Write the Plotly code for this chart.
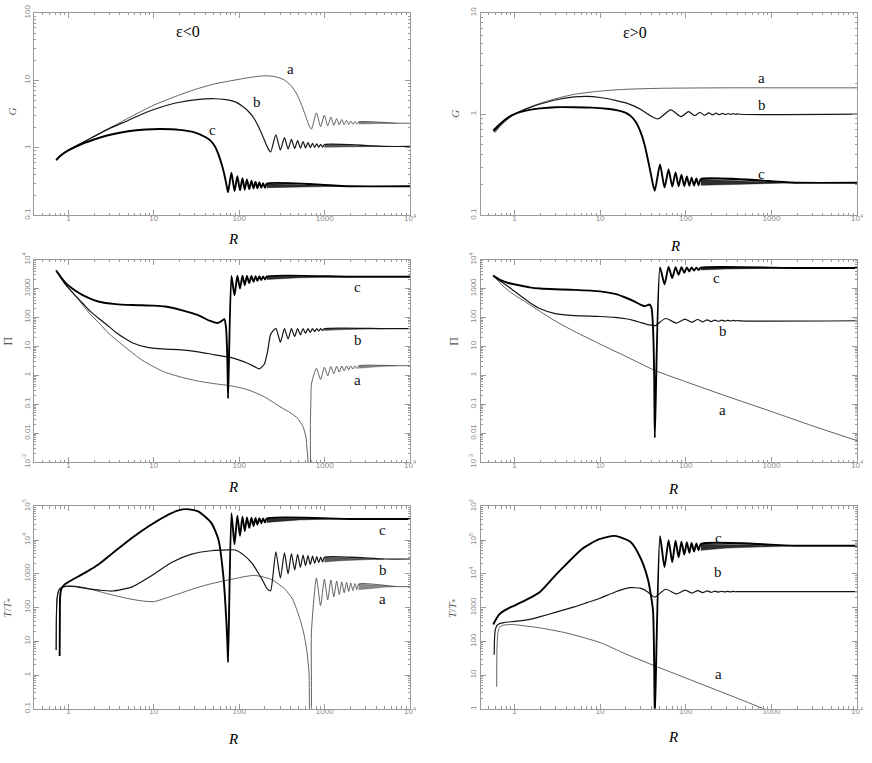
import math
import plotly.graph_objects as go

# ---------------- shared R grids of the oscillation extrema ----------------
OSC_L_c_R = [74, 81, 88, 95, 102, 109, 116, 123, 131, 139, 147, 155, 163, 172, 181, 190, 200, 210]
BAND_L_c_R = [210, 300, 500, 1000, 2000]
OSC_L_b_R = [233, 268, 303, 338, 373, 408, 445, 482, 520, 558, 597, 637, 678, 720, 763, 807, 852, 898, 945, 993]
BAND_L_b_R = [993, 1500, 2500, 5000]
OSC_L_a_R = [700, 800, 895, 990, 1085, 1180, 1280, 1380, 1480, 1585, 1690, 1800, 1910, 2020, 2140, 2260, 2380, 2500]
BAND_L_a_R = [2500, 3500, 5000, 7000]

OSC_R_c_R = [43.5, 50, 56.5, 63, 69.5, 76, 82.5, 89, 96, 103, 110, 117, 125, 133, 141, 150]
BAND_R_c_R = [150, 300, 700, 2000]
OSC_R_b_G_R = [48, 67, 88, 108, 127, 146, 166, 186, 206, 226, 247, 268, 290, 312, 335, 358, 382, 406, 430]
OSC_R_b_R = [44, 58, 78, 98, 118, 138, 158, 178, 198, 218, 240, 262, 285, 308, 332, 356, 380, 405, 430]

# ---------------- Panel 1 : G, eps<0 ----------------
G_neg_a_R = [0.72, 0.8, 1, 1.5, 2, 3, 5, 10, 20, 30, 50, 100, 150, 200, 260, 330, 400, 470, 530, 580, 620, 660]
G_neg_a = [0.66, 0.76, 0.93, 1.22, 1.48, 1.95, 2.75, 4.3, 6.1, 7.3, 8.8, 10.4, 11.3, 11.7, 11.4, 10.3, 8.5, 6.3, 4.5, 3.3, 2.6, 2.1]
G_neg_a_osc = [1.9, 3.3, 2.06, 3.05, 2.12, 2.85, 2.16, 2.72, 2.19, 2.63, 2.21, 2.56, 2.23, 2.5, 2.24, 2.46, 2.25, 2.43]
G_neg_a_hi = [2.43, 2.38, 2.34, 2.32]
G_neg_a_lo = [2.25, 2.28, 2.3, 2.32]
G_neg_a_end = 2.32

G_neg_b_R = [0.72, 0.8, 1, 1.5, 2, 3, 5, 7, 10, 15, 20, 30, 50, 70, 90, 110, 130, 150, 170, 190, 205, 218]
G_neg_b = [0.66, 0.76, 0.93, 1.22, 1.48, 1.93, 2.55, 3.1, 3.7, 4.35, 4.75, 5.15, 5.35, 5.2, 4.8, 4.1, 3.4, 2.7, 2.0, 1.45, 1.15, 0.97]
G_neg_b_osc = [0.87, 1.56, 0.93, 1.42, 0.96, 1.34, 0.98, 1.28, 0.99, 1.24, 1.0, 1.2, 1.01, 1.17, 1.015, 1.15, 1.02, 1.13, 1.025, 1.12]
G_neg_b_hi = [1.12, 1.09, 1.07, 1.05]
G_neg_b_lo = [1.025, 1.035, 1.045, 1.05]
G_neg_b_end = 1.05

G_neg_c_R = [0.72, 0.8, 1, 1.5, 2, 3, 5, 8, 12, 20, 30, 40, 47, 53, 57, 62, 67, 71]
G_neg_c = [0.66, 0.76, 0.92, 1.17, 1.33, 1.55, 1.76, 1.87, 1.9, 1.85, 1.7, 1.45, 1.25, 1.0, 0.8, 0.58, 0.4, 0.28]
G_neg_c_osc = [0.22, 0.43, 0.23, 0.38, 0.235, 0.355, 0.24, 0.34, 0.245, 0.325, 0.25, 0.315, 0.252, 0.31, 0.255, 0.30, 0.257, 0.295]
G_neg_c_hi = [0.295, 0.29, 0.282, 0.275, 0.27]
G_neg_c_lo = [0.257, 0.26, 0.264, 0.267, 0.27]
G_neg_c_end = 0.27

# ---------------- Panel 2 : G, eps>0 ----------------
G_pos_a_R = [0.59, 0.7, 0.85, 1, 1.5, 2, 3, 5, 10, 20, 50, 100, 300, 1000, 10000]
G_pos_a = [0.655, 0.78, 0.9, 1.0, 1.17, 1.28, 1.42, 1.57, 1.69, 1.76, 1.8, 1.81, 1.82, 1.82, 1.82]

G_pos_b_R = [0.575, 0.7, 0.85, 1, 1.5, 2, 3, 5, 7, 10, 15, 20, 25, 30, 35, 40, 44]
G_pos_b = [0.67, 0.8, 0.92, 1.0, 1.16, 1.26, 1.38, 1.48, 1.5, 1.46, 1.37, 1.29, 1.2, 1.11, 1.02, 0.95, 0.91]
G_pos_b_osc = [0.9, 1.1, 0.946, 1.057, 0.965, 1.04, 0.975, 1.03, 0.982, 1.024, 0.987, 1.019, 0.99, 1.015, 0.993, 1.012, 0.995, 1.008, 0.997]
G_pos_b_end = 1.0

G_pos_c_R = [0.565, 0.7, 0.85, 1, 1.5, 2, 3, 5, 8, 12, 16, 20, 23, 26, 30, 33, 36, 39, 41.5]
G_pos_c = [0.69, 0.82, 0.93, 1.0, 1.1, 1.14, 1.17, 1.17, 1.16, 1.13, 1.09, 1.03, 0.95, 0.84, 0.65, 0.5, 0.36, 0.26, 0.2]
G_pos_c_osc = [0.175, 0.318, 0.188, 0.284, 0.192, 0.266, 0.194, 0.252, 0.195, 0.242, 0.196, 0.236, 0.197, 0.231, 0.198, 0.228]
G_pos_c_hi = [0.228, 0.222, 0.215, 0.21]
G_pos_c_lo = [0.198, 0.201, 0.205, 0.21]
G_pos_c_end = 0.21

# ---------------- Panel 3 : Pi, eps<0 ----------------
Pi_neg_a_R = [0.72, 0.8, 0.94, 1.2, 1.47, 1.8, 2.29, 2.9, 3.58, 4.5, 5.58, 7, 8.7, 11, 13.6, 21, 33, 52, 81, 125,
              197, 300, 400, 480, 556, 600, 622, 640, 652, 668, 680, 690]
Pi_neg_a = [4200, 2600, 1290, 560, 270, 130, 64, 30, 17.4, 10, 6.1, 3.6, 2.45, 1.7, 1.27, 0.86, 0.63, 0.51, 0.43, 0.32,
            0.18, 0.082, 0.05, 0.033, 0.017, 0.008, 0.0028, 0.001, 0.0003, 0.0003, 0.02, 0.15]
Pi_neg_a_osc = [0.5, 1.74, 0.72, 1.9, 0.95, 2.0, 1.15, 2.05, 1.3, 2.08, 1.45, 2.1, 1.55, 2.11, 1.65, 2.12, 1.72, 2.13]
Pi_neg_a_hi = [2.14, 2.15, 2.15, 2.15]
Pi_neg_a_lo = [1.75, 1.9, 2.05, 2.15]
Pi_neg_a_end = 2.15

Pi_neg_b_R = [0.72, 0.8, 0.94, 1.2, 1.47, 1.8, 2.29, 2.9, 3.58, 4.5, 5.58, 8.7, 13.6, 21, 33, 52, 81, 125, 150, 172, 197, 215]
Pi_neg_b = [4200, 2600, 1300, 580, 310, 165, 90, 52, 31, 19.5, 13.4, 9, 8, 7.6, 6.5, 5.1, 4.1, 2.6, 2.0, 1.66, 2.45, 6.9]
Pi_neg_b_osc = [26, 42, 14, 41, 18, 41, 22, 41, 25, 41, 28, 41, 30.5, 41, 32.5, 41, 34, 41, 35.5, 41]
Pi_neg_b_hi = [41.3, 41.3, 41.2, 41]
Pi_neg_b_lo = [35.5, 37.5, 39.5, 41]
Pi_neg_b_end = 41

Pi_neg_c_R = [0.72, 0.8, 0.94, 1.2, 1.47, 2.29, 3.58, 5.58, 10, 13.6, 21, 33, 45, 55, 62, 67, 70, 72, 73]
Pi_neg_c = [4200, 2700, 1500, 850, 590, 350, 290, 270, 256, 240, 180, 120, 77, 64, 75, 88, 45, 8, 1.5]
Pi_neg_c_osc = [0.16, 2700, 580, 2750, 1000, 2750, 1300, 2720, 1550, 2700, 1700, 2680, 1850, 2650, 1950, 2630, 2050, 2600]
Pi_neg_c_hi = [2600, 2580, 2570, 2560, 2550]
Pi_neg_c_lo = [2050, 2200, 2350, 2470, 2550]
Pi_neg_c_end = 2550

# ---------------- Panel 4 : Pi, eps>0 ----------------
Pi_pos_a_R = [0.565, 0.6, 0.7, 0.85, 1, 1.5, 2, 3, 5, 10, 20, 43, 100, 300, 1000, 3000, 10000]
Pi_pos_a = [2800, 2300, 1400, 850, 600, 280, 160, 75, 33, 12, 4.5, 1.5, 0.6, 0.19, 0.056, 0.018, 0.0055]

Pi_pos_b_R = [0.565, 0.6, 0.7, 0.85, 1, 1.5, 2, 3, 5, 10, 15, 20, 25, 30, 35, 40]
Pi_pos_b = [2800, 2400, 1700, 1150, 800, 330, 200, 135, 115, 108, 100, 90, 78, 66, 58, 54]
Pi_pos_b_osc = [52, 92, 64, 88, 68, 85, 70.5, 83, 72, 81.5, 73.5, 80.5, 74.5, 79.5, 75.2, 79, 75.8, 78.5, 76.3]
Pi_pos_b_end = 77

Pi_pos_c_R = [0.565, 0.6, 0.7, 0.85, 1, 1.5, 2, 3, 5, 10, 15, 20, 25, 30, 33, 36, 38, 40, 41.5, 42.8]
Pi_pos_c = [2800, 2500, 1900, 1550, 1400, 1100, 1000, 940, 900, 800, 650, 480, 360, 270, 245, 265, 280, 200, 40, 1]
Pi_pos_c_osc = [0.007, 5400, 1400, 5600, 2300, 5500, 3000, 5450, 3500, 5400, 3900, 5350, 4200, 5300, 4400, 5250]
Pi_pos_c_hi = [5250, 5200, 5150, 5100]
Pi_pos_c_lo = [4400, 4700, 4950, 5100]
Pi_pos_c_end = 5100

# ---------------- Panel 5 : T/T*, eps<0 ----------------
T_neg_a_R = [0.72, 0.725, 0.74, 0.77, 0.82, 0.9, 1, 1.2, 1.5, 2, 3, 5, 7, 10, 15, 23, 33, 47, 81, 150,
             235, 336, 420, 479, 530, 573, 620, 656, 675, 688]
T_neg_a = [5.5, 60, 200, 320, 390, 420, 430, 430, 400, 330, 250, 185, 160, 150, 205, 295, 400, 510, 690, 900,
           690, 370, 180, 77, 35, 16, 5, 1.1, 0.05, 0.05]
T_neg_a_osc = [20, 750, 115, 690, 170, 650, 210, 610, 245, 580, 275, 555, 300, 535, 320, 515, 340, 500]
T_neg_a_hi = [500, 470, 440, 420]
T_neg_a_lo = [340, 370, 400, 420]
T_neg_a_end = 420

T_neg_b_R = [0.72, 0.725, 0.74, 0.77, 0.82, 0.9, 1, 1.2, 1.6, 2.29, 3.27, 5.58, 9.5, 16.3, 27.7, 47, 74, 90, 115, 140, 165, 190, 206, 220]
T_neg_b = [5.5, 60, 200, 320, 390, 420, 430, 420, 370, 330, 310, 412, 900, 2200, 3860, 4840, 5150, 5100, 3470, 2100, 1120, 600, 400, 330]
T_neg_b_osc = [316, 4500, 750, 4200, 1000, 4000, 1300, 3800, 1550, 3600, 1750, 3450, 1900, 3350, 2050, 3250, 2150, 3150, 2250, 3100]
T_neg_b_hi = [3100, 2950, 2850, 2750]
T_neg_b_lo = [2250, 2450, 2650, 2750]
T_neg_b_end = 2750

T_neg_c_R = [0.79, 0.795, 0.8, 0.82, 0.86, 0.92, 1, 1.61, 2.29, 3.27, 5.58, 8.7, 13.6, 19.4, 24.3, 33, 47, 57, 65, 71, 73]
T_neg_c = [3.7, 50, 200, 330, 420, 500, 575, 1120, 1950, 4040, 11700, 25700, 50700, 76000, 82800, 71000, 32400, 10400, 900, 31, 6]
T_neg_c_osc = [2.4, 63000, 7500, 53000, 13300, 49000, 18500, 47000, 23000, 46000, 26000, 45000, 29000, 44500, 31500, 44000, 33500, 43500]
T_neg_c_hi = [43500, 43000, 42700, 42500, 42400]
T_neg_c_lo = [33500, 36500, 39500, 41500, 42400]
T_neg_c_end = 42400

# ---------------- Panel 6 : T/T*, eps>0 ----------------
T_pos_a_R = [0.62, 0.625, 0.64, 0.67, 0.72, 0.8, 0.9, 1, 2, 4, 10, 20, 43, 100, 337, 818, 1000]
T_pos_a = [4.5, 60, 180, 260, 295, 310, 315, 312, 250, 178, 92, 42, 19, 8.2, 2.45, 1.0, 0.82]

T_pos_b_R = [0.58, 0.585, 0.6, 0.63, 0.68, 0.75, 0.85, 1, 1.5, 2, 3, 5, 7, 10, 15, 22, 30, 36, 40]
T_pos_b = [40, 120, 230, 300, 340, 360, 375, 390, 450, 540, 720, 1050, 1400, 1900, 2900, 3900, 3700, 2900, 2300]
T_pos_b_osc = [2050, 3500, 2550, 3300, 2700, 3200, 2780, 3120, 2840, 3080, 2880, 3050, 2910, 3030, 2930, 3010, 2950, 2990, 2960]
T_pos_b_end = 2970

T_pos_c_R = [0.565, 0.6, 0.66, 0.75, 0.85, 1, 1.5, 2, 3, 3.9, 6.1, 9.6, 14.9, 23, 30, 36, 39, 41.5, 42.8]
T_pos_c = [315, 420, 620, 800, 950, 1150, 1900, 2950, 9000, 17800, 53700, 105000, 133000, 85000, 27500, 7200, 2500, 770, 20]
T_pos_c_osc = [0.5, 130000, 15800, 100000, 22000, 96000, 31000, 90000, 37000, 86000, 42000, 82000, 46000, 79000, 50000, 77000]
T_pos_c_hi = [77000, 73000, 70000, 68000]
T_pos_c_lo = [50000, 58000, 64000, 68000]
T_pos_c_end = 68000

# ---------------- tick labels ----------------
X_TICKS = [1, 10, 100, 1000, 10000]
X_TEXT = ['1', '10', '100', '1000', '10<sup>4</sup>']
Y_TICKS = {
    1: ([0.1, 1, 10, 100], ['0.1', '1', '10', '100']),
    2: ([0.1, 1, 10], ['0.1', '1', '10']),
    3: ([1e-3, 0.01, 0.1, 1, 10, 100, 1000, 1e4], ['10<sup>-3</sup>', '0.01', '0.1', '1', '10', '100', '1000', '10<sup>4</sup>']),
    4: ([1e-3, 0.01, 0.1, 1, 10, 100, 1000, 1e4], ['10<sup>-3</sup>', '0.01', '0.1', '1', '10', '100', '1000', '10<sup>4</sup>']),
    5: ([0.1, 1, 10, 100, 1000, 1e4, 1e5], ['0.1', '1', '10', '100', '1000', '10<sup>4</sup>', '10<sup>5</sup>']),
    6: ([1, 10, 100, 1000, 1e4, 1e5, 1e6], ['1', '10', '100', '1000', '10<sup>4</sup>', '10<sup>5</sup>', '10<sup>6</sup>']),
}
Y_RANGE = {1: [-1, 2], 2: [-1, 1], 3: [-3, 4], 4: [-3, 4], 5: [-1, 5], 6: [0, 6]}
X_RANGE = {1: [-0.405, 4], 3: [-0.405, 4], 5: [-0.405, 4], 2: [-0.395, 4], 4: [-0.395, 4], 6: [-0.395, 4]}

# curve labels (R, value)
LABELS = {
    1: [('a', 400, 14.8), ('b', 160, 4.8), ('c', 48, 1.85)],
    2: [('a', 770, 2.3), ('b', 770, 1.23), ('c', 770, 0.255)],
    3: [('c', 2430, 1130), ('b', 2430, 16), ('a', 2430, 0.67)],
    4: [('c', 231, 2300), ('b', 272, 33), ('a', 272, 0.064)],
    5: [('c', 4780, 20600), ('b', 4780, 1260), ('a', 4780, 176)],
    6: [('c', 240, 118000), ('b', 240, 11300), ('a', 240, 11)],
}

# ---------------- figure ----------------
fig = go.Figure()

STY = {
    'a': dict(width=0.8, color='#3a3a3a'),
    'b': dict(width=1.2, color='#151515'),
    'c': dict(width=1.9, color='#000000'),
}
BAND_FILL = {'a': 'rgba(40,40,40,0.55)', 'b': 'rgba(20,20,20,0.7)', 'c': 'rgba(0,0,0,0.82)'}


def aid(n):
    return '' if n == 1 else str(n)


def add_curve(n, key, R, V, oR=None, oV=None, band=None, end=None):
    xs, ys = list(R), list(V)
    if oR is not None:
        xs += list(oR)
        ys += list(oV)
    if band is not None:
        bR, hi, lo = band
        fig.add_trace(go.Scatter(
            x=list(bR) + list(bR)[::-1], y=list(hi) + list(lo)[::-1],
            mode='lines', fill='toself', fillcolor=BAND_FILL[key],
            line=dict(width=0.5, color=BAND_FILL[key]),
            xaxis='x' + aid(n), yaxis='y' + aid(n), hoverinfo='skip', showlegend=False))
        xs.append(bR[-1])
        ys.append(end)
    if end is not None:
        xs.append(10000)
        ys.append(end)
    fig.add_trace(go.Scatter(
        x=xs, y=ys, mode='lines',
        line=dict(shape='spline', smoothing=0.6, **STY[key]),
        xaxis='x' + aid(n), yaxis='y' + aid(n), hoverinfo='skip', showlegend=False))


# panel 1
add_curve(1, 'a', G_neg_a_R, G_neg_a, OSC_L_a_R, G_neg_a_osc, (BAND_L_a_R, G_neg_a_hi, G_neg_a_lo), G_neg_a_end)
add_curve(1, 'b', G_neg_b_R, G_neg_b, OSC_L_b_R, G_neg_b_osc, (BAND_L_b_R, G_neg_b_hi, G_neg_b_lo), G_neg_b_end)
add_curve(1, 'c', G_neg_c_R, G_neg_c, OSC_L_c_R, G_neg_c_osc, (BAND_L_c_R, G_neg_c_hi, G_neg_c_lo), G_neg_c_end)
# panel 2
add_curve(2, 'a', G_pos_a_R, G_pos_a)
add_curve(2, 'b', G_pos_b_R, G_pos_b, OSC_R_b_G_R, G_pos_b_osc, None, G_pos_b_end)
add_curve(2, 'c', G_pos_c_R, G_pos_c, OSC_R_c_R, G_pos_c_osc, (BAND_R_c_R, G_pos_c_hi, G_pos_c_lo), G_pos_c_end)
# panel 3
add_curve(3, 'a', Pi_neg_a_R, Pi_neg_a, OSC_L_a_R, Pi_neg_a_osc, (BAND_L_a_R, Pi_neg_a_hi, Pi_neg_a_lo), Pi_neg_a_end)
add_curve(3, 'b', Pi_neg_b_R, Pi_neg_b, OSC_L_b_R, Pi_neg_b_osc, (BAND_L_b_R, Pi_neg_b_hi, Pi_neg_b_lo), Pi_neg_b_end)
add_curve(3, 'c', Pi_neg_c_R, Pi_neg_c, OSC_L_c_R, Pi_neg_c_osc, (BAND_L_c_R, Pi_neg_c_hi, Pi_neg_c_lo), Pi_neg_c_end)
# panel 4
add_curve(4, 'a', Pi_pos_a_R, Pi_pos_a)
add_curve(4, 'b', Pi_pos_b_R, Pi_pos_b, OSC_R_b_R, Pi_pos_b_osc, None, Pi_pos_b_end)
add_curve(4, 'c', Pi_pos_c_R, Pi_pos_c, OSC_R_c_R, Pi_pos_c_osc, (BAND_R_c_R, Pi_pos_c_hi, Pi_pos_c_lo), Pi_pos_c_end)
# panel 5
add_curve(5, 'a', T_neg_a_R, T_neg_a, OSC_L_a_R, T_neg_a_osc, (BAND_L_a_R, T_neg_a_hi, T_neg_a_lo), T_neg_a_end)
add_curve(5, 'b', T_neg_b_R, T_neg_b, OSC_L_b_R, T_neg_b_osc, (BAND_L_b_R, T_neg_b_hi, T_neg_b_lo), T_neg_b_end)
add_curve(5, 'c', T_neg_c_R, T_neg_c, OSC_L_c_R, T_neg_c_osc, (BAND_L_c_R, T_neg_c_hi, T_neg_c_lo), T_neg_c_end)
# panel 6
add_curve(6, 'a', T_pos_a_R, T_pos_a)
add_curve(6, 'b', T_pos_b_R, T_pos_b, OSC_R_b_R, T_pos_b_osc, None, T_pos_b_end)
add_curve(6, 'c', T_pos_c_R, T_pos_c, OSC_R_c_R, T_pos_c_osc, (BAND_R_c_R, T_pos_c_hi, T_pos_c_lo), T_pos_c_end)

# ---------------- axes ----------------
XDOM = {'L': [0.039, 0.4736], 'R': [0.555, 0.9897]}
YDOM = {0: [0.7222, 0.9921], 1: [0.3932, 0.6632], 2: [0.0642, 0.3342]}
AXC = '#9a9a9a'
TICKFONT = dict(family='Liberation Sans, Arial, sans-serif', size=8, color='#8a8a8a')


def minor_vals(lo, hi):
    out = []
    for d in range(lo, hi):
        for k in range(2, 10):
            out.append(k * 10.0 ** d)
    return out


layout_axes = {}
for n in range(1, 7):
    col = 'L' if n % 2 == 1 else 'R'
    row = (n - 1) // 2
    yr = Y_RANGE[n]
    layout_axes['xaxis' + aid(n)] = dict(
        type='log', domain=XDOM[col], range=X_RANGE[n], anchor='y' + aid(n),
        showline=True, linecolor=AXC, linewidth=1, mirror='allticks',
        ticks='inside', ticklen=5, tickcolor=AXC, tickwidth=1,
        tickmode='array', tickvals=X_TICKS, ticktext=X_TEXT, tickfont=TICKFONT,
        ticklabelstandoff=-5,
        showgrid=False, zeroline=False,
        minor=dict(ticks='inside', ticklen=2.5, tickcolor=AXC, tickwidth=1,
                   tickmode='array', tickvals=minor_vals(-1, 4), showgrid=False))
    layout_axes['yaxis' + aid(n)] = dict(
        type='log', domain=YDOM[row], range=yr, anchor='x' + aid(n),
        showline=True, linecolor=AXC, linewidth=1, mirror='allticks',
        ticks='inside', ticklen=5, tickcolor=AXC, tickwidth=1,
        tickmode='array', tickvals=Y_TICKS[n][0], ticktext=Y_TICKS[n][1],
        tickfont=TICKFONT, tickangle=-90,
        showgrid=False, zeroline=False,
        minor=dict(ticks='inside', ticklen=2.5, tickcolor=AXC, tickwidth=1,
                   tickmode='array', tickvals=minor_vals(yr[0], yr[1]), showgrid=False))

annotations = []
SERIF = 'Liberation Serif, Times New Roman, serif'
for n, labs in LABELS.items():
    for txt, r, v in labs:
        annotations.append(dict(text=txt, x=math.log10(r), y=math.log10(v),
                                xref='x' + aid(n), yref='y' + aid(n), showarrow=False,
                                xanchor='center', yanchor='middle',
                                font=dict(family=SERIF, size=15, color='#111')))

# x titles (centre positions, in axis-domain units)
XT_Y = {1: -0.118, 2: -0.15, 3: -0.125, 4: -0.133, 5: -0.15, 6: -0.141}
XT_X = {1: 0.53, 2: 0.515, 3: 0.53, 4: 0.512, 5: 0.53, 6: 0.512}
for n in range(1, 7):
    annotations.append(dict(text='<i>R</i>', x=XT_X[n], y=XT_Y[n], xref='x' + aid(n) + ' domain',
                            yref='y' + aid(n) + ' domain', showarrow=False,
                            xanchor='center', yanchor='middle',
                            font=dict(family=SERIF, size=15, color='#000')))

# y titles
YT = {1: ('<i>G</i>', -0.059, 0.511, 11), 2: ('<i>G</i>', -0.069, 0.5, 11),
      3: ('Π', -0.068, 0.597, 12), 4: ('Π', -0.069, 0.597, 12),
      5: ('<i>T</i>/<i>T</i><sub>*</sub>', -0.068, 0.497, 11),
      6: ('<i>T</i>/<i>T</i><sub>*</sub>', -0.074, 0.497, 11)}
for n, (t, xx, yy, sz) in YT.items():
    annotations.append(dict(text=t, x=xx, y=yy, xref='x' + aid(n) + ' domain',
                            yref='y' + aid(n) + ' domain', showarrow=False, textangle=-90,
                            xanchor='center', yanchor='middle',
                            font=dict(family=SERIF, size=sz, color='#555')))

annotations.append(dict(text='ε&lt;0', x=0.41, y=0.908, xref='x domain', yref='y domain',
                        xanchor='center', yanchor='middle',
                        showarrow=False, font=dict(family=SERIF, size=16, color='#000')))
annotations.append(dict(text='ε&gt;0', x=0.409, y=0.903, xref='x2 domain', yref='y2 domain',
                        xanchor='center', yanchor='middle',
                        showarrow=False, font=dict(family=SERIF, size=16, color='#000')))

fig.update_layout(
    width=872, height=763, margin=dict(l=0, r=0, t=0, b=0),
    paper_bgcolor='white', plot_bgcolor='white', showlegend=False,
    annotations=annotations, **layout_axes)

fig.write_html('out.html', config={'displayModeBar': False},
               post_script="document.body.style.margin='0px';document.body.style.overflow='hidden';")
